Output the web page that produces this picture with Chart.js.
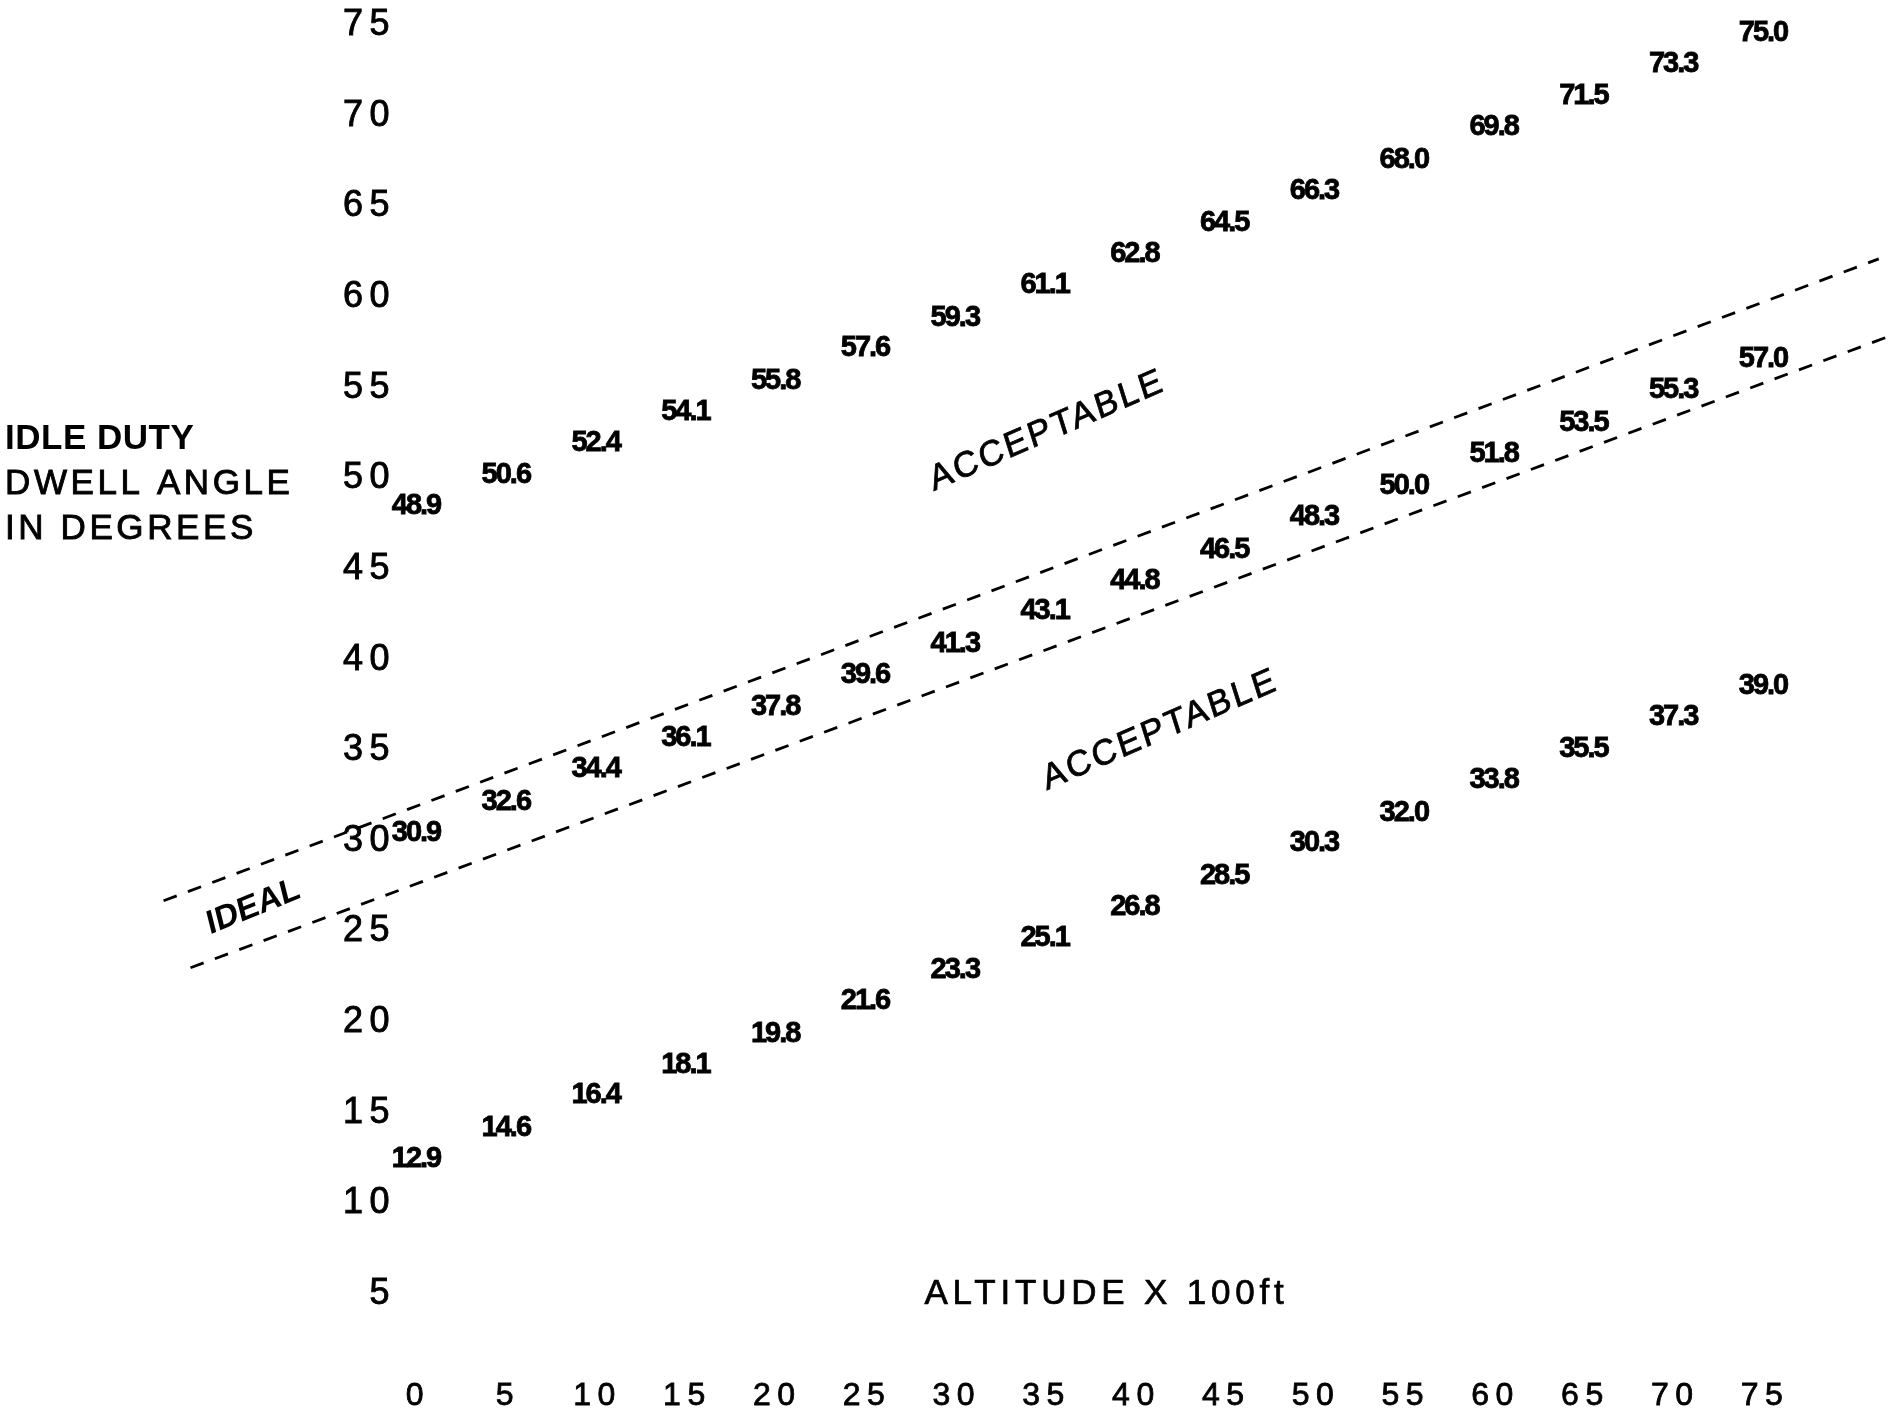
<!DOCTYPE html>
<html><head><meta charset="utf-8">
<script src="https://cdn.jsdelivr.net/npm/chart.js@4/dist/chart.umd.min.js"></script>
<style>html,body{margin:0;padding:0;background:#fff;overflow:hidden}#wrap{width:1894px;height:1424px;position:relative}</style>
</head><body><div id="wrap"><canvas id="c"></canvas></div>
<script>
// ---- data ----
const altitude   = [0,5,10,15,20,25,30,35,40,45,50,55,60,65,70,75];
const upperDwell = [48.9,50.6,52.4,54.1,55.8,57.6,59.3,61.1,62.8,64.5,66.3,68.0,69.8,71.5,73.3,75.0];
const idealDwell = [30.9,32.6,34.4,36.1,37.8,39.6,41.3,43.1,44.8,46.5,48.3,50.0,51.8,53.5,55.3,57.0];
const lowerDwell = [12.9,14.6,16.4,18.1,19.8,21.6,23.3,25.1,26.8,28.5,30.3,32.0,33.8,35.5,37.3,39.0];
const yTickValues = [5,10,15,20,25,30,35,40,45,50,55,60,65,70,75];
const xTickValues = [0,5,10,15,20,25,30,35,40,45,50,55,60,65,70,75];
// dashed edges of the IDEAL band (altitude, degrees)
const bandTopX = [-14, 81.5];
const bandTopY = [26.7, 62.1];
const bandBottomX = [-12.5, 82];
const bandBottomY = [23.0, 57.8];
const yTitle = ['IDLE DUTY','DWELL ANGLE','IN DEGREES'];
const xTitle = 'ALTITUDE X 100ft';
const regionNames = ['ACCEPTABLE','ACCEPTABLE','IDEAL'];
const regionAtX = [35.2, 41.5, -9.0];
const regionAtY = [52.6, 36.1, 26.35];

const pts = (xs, ys) => xs.map((x, i) => ({x, y: ys[i]}));

const FONT = '"Liberation Sans", Arial, sans-serif';
const rad = d => d * Math.PI / 180;

const textMarks = {
  id: 'textMarks',
  beforeDraw(chart) { chart.ctx.letterSpacing = '6.5px'; },
  afterDatasetsDraw(chart) {
    const ctx = chart.ctx, xs = chart.scales.x, ys = chart.scales.y;
    ctx.save();
    ctx.fillStyle = '#000';
    ctx.strokeStyle = '#000';
    // value labels at each point
    chart.data.datasets.forEach((ds, i) => {
      if (!ds.valueLabels) return;
      const meta = chart.getDatasetMeta(i);
      ctx.font = 'bold 29px ' + FONT;
      ctx.letterSpacing = '-2px';
      ctx.textAlign = 'center';
      ctx.textBaseline = 'middle';
      ctx.lineWidth = 0.8;
      meta.data.forEach((el, j) => {
        const s = ds.data[j].y.toFixed(1);
        ctx.fillText(s, el.x + 1, el.y + 8);
        ctx.strokeText(s, el.x + 1, el.y + 8);
      });
    });
    // region names, rotated and slightly sheared (hand-lettered look)
    regionNames.forEach((t, i) => {
      const px = xs.getPixelForValue(regionAtX[i]);
      const py = ys.getPixelForValue(regionAtY[i]);
      const ideal = t === 'IDEAL';
      ctx.save();
      ctx.translate(px, py);
      ctx.rotate(rad(ideal ? -22 : -23.5));
      ctx.transform(1, 0, -Math.tan(rad(ideal ? 8 : 6)), 1, 0, 0);
      ctx.font = (ideal ? 'bold 33px ' : '35px ') + FONT;
      ctx.letterSpacing = ideal ? '0px' : '2.5px';
      ctx.textAlign = 'center';
      ctx.textBaseline = 'middle';
      ctx.fillText(t, 0, 0);
      if (!ideal) { ctx.lineWidth = 0.8; ctx.strokeText(t, 0, 0); }
      ctx.restore();
    });
    // y-axis title block (left, centred on the 50 row)
    const cy = ys.getPixelForValue(50) + 6.5;
    ctx.textAlign = 'left';
    ctx.textBaseline = 'middle';
    yTitle.forEach((t, i) => {
      ctx.font = (i === 0 ? 'bold 35px ' : '35px ') + FONT;
      ctx.letterSpacing = i === 0 ? '0.5px' : '3.6px';
      const yy = cy + (i - 1) * 45;
      ctx.fillText(t, 5, yy);
      if (i > 0) { ctx.lineWidth = 0.9; ctx.strokeText(t, 5, yy); }
    });
    // x-axis title
    ctx.font = '35px ' + FONT;
    ctx.letterSpacing = '4.8px';
    ctx.textAlign = 'center';
    ctx.lineWidth = 0.7;
    const tx = xs.getPixelForValue(38.5), ty = ys.getPixelForValue(5);
    ctx.fillText(xTitle, tx, ty);
    ctx.strokeText(xTitle, tx, ty);
    ctx.restore();
  }
};

const labelSet = (name, vals) => ({
  label: name, data: pts(altitude, vals), showLine: false,
  pointRadius: 0, pointHoverRadius: 0, valueLabels: true
});
const dashSet = (name, xs, ys) => ({
  label: name, data: pts(xs, ys), showLine: true, clip: false,
  borderColor: '#000', borderWidth: 2.8, borderDash: [14, 12],
  pointRadius: 0, pointHoverRadius: 0, fill: false
});

new Chart(document.getElementById('c'), {
  type: 'scatter',
  data: {
    datasets: [
      labelSet('Upper acceptable', upperDwell),
      labelSet('Ideal', idealDwell),
      labelSet('Lower acceptable', lowerDwell),
      dashSet('Ideal band top', bandTopX, bandTopY),
      dashSet('Ideal band bottom', bandBottomX, bandBottomY)
    ]
  },
  options: {
    responsive: true, maintainAspectRatio: false, animation: false,
    layout: { padding: { top: 25, right: 132, bottom: 0, left: 0 } },
    plugins: { legend: { display: false }, tooltip: { enabled: false } },
    scales: {
      x: {
        type: 'linear', min: 0, max: 75,
        grid: { display: false }, border: { display: false },
        afterBuildTicks: s => { s.ticks = xTickValues.map(v => ({ value: v })); },
        afterFit: s => { s.height = 55.5; s.paddingLeft = 0; s.paddingRight = 0; },
        ticks: { color: '#000', padding: 0, labelOffset: 3, maxRotation: 0, autoSkip: false,
                 textStrokeColor: '#000', textStrokeWidth: 0.8,
                 font: { family: FONT, size: 32 }, callback: v => String(v) }
      },
      y: {
        type: 'linear', min: 0.9, max: 75,
        grid: { display: false }, border: { display: false },
        afterBuildTicks: s => { s.ticks = yTickValues.map(v => ({ value: v })); },
        afterFit: s => { s.width = 415; s.paddingTop = 0; s.paddingBottom = 0; },
        ticks: { color: '#000', padding: 11, autoSkip: false,
                 textStrokeColor: '#000', textStrokeWidth: 0.9,
                 font: { family: FONT, size: 36 }, callback: v => String(v) }
      }
    }
  },
  plugins: [textMarks]
});
</script></body></html>
